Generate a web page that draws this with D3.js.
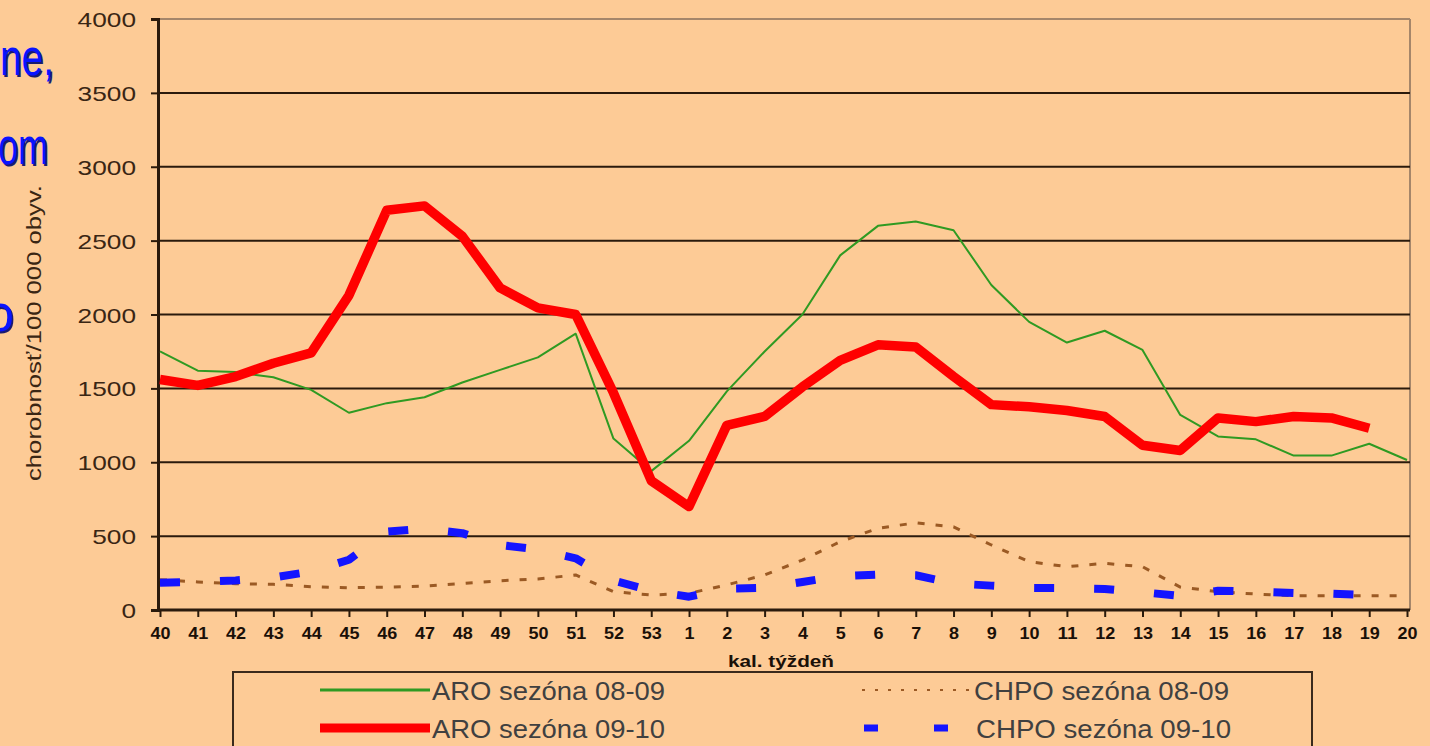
<!DOCTYPE html>
<html>
<head>
<meta charset="utf-8">
<script src="https://cdn.jsdelivr.net/npm/d3@7"></script>
<style>
  html, body { margin: 0; padding: 0; background: #fdcb96; overflow: hidden; }
  svg { display: block; }
</style>
</head>
<body>
<div id="chart"></div>
<script>
var w = 1430;
var h = 746;

// weeks 40..53 of 2009 and 1..20 of 2010
var weeks = ["40","41","42","43","44","45","46","47","48","49","50","51","52","53",
             "1","2","3","4","5","6","7","8","9","10","11","12","13","14","15","16","17","18","19","20"];
var yTicks = [0, 500, 1000, 1500, 2000, 2500, 3000, 3500, 4000];

var aro0809 = [1750,1620,1610,1575,1490,1335,1400,1440,1540,1625,1710,1870,1160,940,
               1145,1480,1750,2000,2400,2600,2630,2570,2200,1950,1810,1890,1760,1320,1175,1155,1045,1045,1125,1015];
var aro0910 = [1560,1520,1580,1670,1740,2130,2705,2735,2530,2180,2045,2000,1470,875,
               700,1250,1310,1510,1690,1795,1780,1580,1390,1375,1350,1310,1115,1080,1300,1275,1310,1300,1230,null];
var chpo0809 = [205,190,178,174,158,151,155,162,180,198,210,237,124,101,
                113,170,237,338,462,553,590,563,440,327,293,316,293,155,124,108,97,96,96,96];
var chpo0910 = [185,190,200,220,260,340,530,550,520,440,410,350,200,130,
                90,145,150,190,230,240,235,180,165,150,148,142,120,95,130,125,115,110,100,null];

var legendLabels = ["ARO sezóna 08-09", "ARO sezóna 09-10", "CHPO sezóna 08-09", "CHPO sezóna 09-10"];

var svg = d3.select("#chart")
            .append("svg")
            .attr("width", w)
            .attr("height", h);

svg.append("rect").attr("width", w).attr("height", h).style("fill", "#fdcb96");

var x = d3.scalePoint().domain(weeks).range([160, 1407]);
var y = d3.scaleLinear().domain([0, 4000]).range([610, 19]);

// title of the slide, cut by the top edge, only descenders show
svg.append("text")
   .attr("x", 545).attr("y", -10)
   .attr("text-anchor", "middle")
   .style("font-family", "Liberation Sans, Arial")
   .style("font-weight", "bold")
   .style("font-size", "26px")
   .style("fill", "#000")
   .text("Chorobnosť na ARO v jednotlivých týždňoch");

// blue slide text behind the chart
var blue = [["ne,", 75, 0, 54], ["om", 164, -2, 50], ["o", 331, -14, 28]];
blue.forEach(function(b){
  var g = svg.append("g");
  g.append("text").attr("x", b[2] + 1.5).attr("y", b[1] + 1.5)
   .attr("textLength", b[3]).attr("lengthAdjust", "spacingAndGlyphs")
   .style("font-family", "Liberation Sans, Arial")
   .style("font-size", "52px").style("fill", "#1a1a70").text(b[0]);
  g.append("text").attr("x", b[2]).attr("y", b[1])
   .attr("textLength", b[3]).attr("lengthAdjust", "spacingAndGlyphs")
   .style("font-family", "Liberation Sans, Arial")
   .style("font-size", "52px").style("fill", "#0a14ff").text(b[0]);
});

// plot frame (top and right light)
svg.append("line").attr("x1", 158).attr("x2", 1410).attr("y1", y(4000)).attr("y2", y(4000))
   .style("stroke", "#a5866a").style("stroke-width", 2);
svg.append("line").attr("x1", 1410).attr("x2", 1410).attr("y1", y(4000)).attr("y2", y(0))
   .style("stroke", "#a5866a").style("stroke-width", 2);

// grid
svg.selectAll(".grid")
   .data(yTicks.filter(function(d){ return d > 0 && d < 4000; }))
   .enter().append("line")
   .attr("class", "grid")
   .attr("x1", 158).attr("x2", 1410)
   .attr("y1", function(d){ return y(d); })
   .attr("y2", function(d){ return y(d); })
   .style("stroke", "#2a1a0c").style("stroke-width", 2);

// y axis
var yAxis = svg.append("g")
   .attr("transform", "translate(158,0)")
   .call(d3.axisLeft(y).tickValues(yTicks).tickSize(7).tickPadding(15).tickFormat(d3.format("d")));
yAxis.select(".domain").style("stroke", "#2a1a0c").style("stroke-width", 3);
yAxis.selectAll(".tick line").style("stroke", "#2a1a0c").style("stroke-width", 2);
yAxis.selectAll(".tick text")
   .attr("dy", "0.36em")
   .attr("textLength", function(d){ return String(d).length * 14.6; })
   .attr("lengthAdjust", "spacingAndGlyphs")
   .style("font-family", "Liberation Sans, Arial")
   .style("font-size", "21px")
   .style("fill", "#3a2614");

// x axis
var xAxis = svg.append("g")
   .attr("transform", "translate(0,610)")
   .call(d3.axisBottom(x).tickSize(7).tickPadding(11));
xAxis.select(".domain").attr("d", "M158,0H1410").style("stroke", "#2a1a0c").style("stroke-width", 3);
xAxis.selectAll(".tick line").style("stroke", "#2a1a0c").style("stroke-width", 2);
xAxis.selectAll(".tick text")
   .attr("textLength", function(d){ return d.length * 10; })
   .attr("lengthAdjust", "spacingAndGlyphs")
   .style("font-family", "Liberation Sans, Arial")
   .style("font-weight", "bold")
   .style("font-size", "16px")
   .style("fill", "#1a1008");

svg.append("text")
   .attr("x", 781).attr("y", 667)
   .attr("text-anchor", "middle")
   .attr("textLength", 106).attr("lengthAdjust", "spacingAndGlyphs")
   .style("font-family", "Liberation Sans, Arial")
   .style("font-weight", "bold")
   .style("font-size", "16px")
   .style("fill", "#1a1008")
   .text("kal. týždeň");

svg.append("text")
   .attr("transform", "translate(41,333) rotate(-90)")
   .attr("text-anchor", "middle")
   .attr("textLength", 296).attr("lengthAdjust", "spacingAndGlyphs")
   .style("font-family", "Liberation Sans, Arial")
   .style("font-size", "21px")
   .style("fill", "#3a2614")
   .text("chorobnosť/100 000 obyv.");

// lines
var line = d3.line()
   .defined(function(d){ return d != null; })
   .x(function(d, i){ return x(weeks[i]); })
   .y(function(d){ return y(d); });

var series = [
  {v: chpo0809, color: "#9b5a24", width: 3, dash: "7,11"},
  {v: aro0809, color: "#2f9a22", width: 2, dash: null},
  {v: chpo0910, color: "#1414ff", width: 8, dash: "20,40"},
  {v: aro0910, color: "#ff0000", width: 9.5, dash: null}
];

svg.selectAll(".series")
   .data(series)
   .enter().append("path")
   .attr("class", "series")
   .attr("d", function(s){ return line(s.v); })
   .style("fill", "none")
   .style("stroke", function(s){ return s.color; })
   .style("stroke-width", function(s){ return s.width; })
   .style("stroke-dasharray", function(s){ return s.dash; })
   .style("stroke-linejoin", "round");

// legend
svg.append("rect")
   .attr("x", 233).attr("y", 672).attr("width", 1079).attr("height", 90)
   .style("fill", "#fdcb96").style("stroke", "#3a2a1c").style("stroke-width", 2);

var legendItems = [
  {label: legendLabels[0], color: "#2f9a22", width: 3, dash: null, x: 320, y: 690, len: 233},
  {label: legendLabels[1], color: "#ff0000", width: 9, dash: null, x: 320, y: 728, len: 233},
  {label: legendLabels[2], color: "#9b5a24", width: 2, dash: "3,10", x: 862, y: 690, len: 255},
  {label: legendLabels[3], color: "#1414ff", width: 7, dash: "14,56", x: 864, y: 728, len: 255}
];

legendItems.forEach(function(d){
  svg.append("line")
     .attr("x1", d.x).attr("x2", d.x + 110)
     .attr("y1", d.y).attr("y2", d.y)
     .style("stroke", d.color).style("stroke-width", d.width)
     .style("stroke-dasharray", d.dash);
  svg.append("text")
     .attr("x", d.x + 112).attr("y", d.y + 10)
     .attr("textLength", d.len).attr("lengthAdjust", "spacingAndGlyphs")
     .style("font-family", "Liberation Sans, Arial")
     .style("font-size", "26px")
     .style("fill", "#404040")
     .text(d.label);
});
</script>
</body>
</html>
